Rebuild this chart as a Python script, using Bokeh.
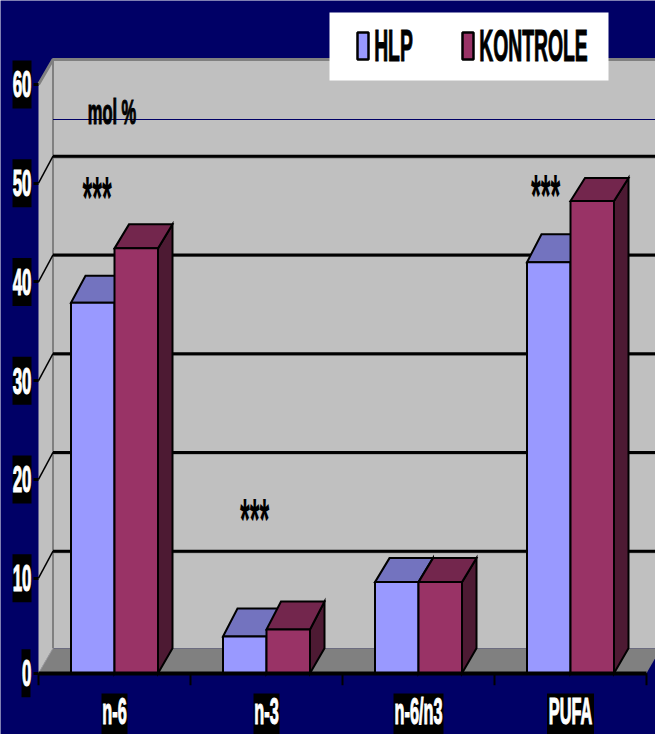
from bokeh.document import Document
from bokeh.embed import file_html
from bokeh.resources import INLINE
from bokeh.plotting import figure
from bokeh.models import CustomJS, FixedTicker, LinearAxis
from bokeh.core.properties import value

# fatty acid fractions, mol %
categories = ["n-6", "n-3", "n-6/n3", "PUFA"]
hlp = [37.9, 4.1, 9.6, 42.0]
kontrole = [43.4, 4.8, 9.6, 48.2]
y_ticks = [10, 20, 30, 40, 50, 60]
series_names = ["HLP", "KONTROLE"]
significance = ["***", "***", "", "***"]

# how far each bar's lid rises towards the back, px
hlp_rise = [27, 28, 24, 28]
kontrole_rise = [24, 28, 24, 23]

NAVY = "#000066"
WALL = "#C0C0C0"
FLOOR = "#808080"
FONT = value("Liberation Sans")

W, H = 655, 734
X0, CAT_W = 38.0, 152.0       # left wall front edge and category width, px
Y0, UNIT = 676.4, 9.874       # scale zero and px per percentage point
BASE = 0.37                   # the box floor sits a little above scale zero
DX, DY = 14.5 / CAT_W, 25.0 / UNIT   # depth of the 3D box in data units
GRID_DY = 27.0 / UNIT         # rise of the gridlines across the left wall
HALF = 43.5 / CAT_W           # single bar width


def X(px):
    return (px - X0) / CAT_W


def Y(py):
    return (Y0 - py) / UNIT


p = figure(width=W, height=H, x_range=(X(0), X(W)), y_range=(Y(H), Y(0)),
           x_axis_type=None, y_axis_type=None, toolbar_location=None,
           output_backend="svg", min_border=0, outline_line_color=None,
           background_fill_color=NAVY, border_fill_color=NAVY)

n = len(categories)
top = y_ticks[-1]

# back wall, left wall and floor of the 3D box
p.patch([DX, n + DX, n + DX, DX], [BASE + DY, BASE + DY, top + DY, top + DY], fill_color=WALL, line_color=None)
p.patch([0, DX, DX, 0], [BASE, BASE + DY, top + DY, top], fill_color=WALL, line_color=None)
p.patch([0, DX, n + DX, n], [BASE, BASE + DY, BASE + DY, BASE], fill_color=FLOOR, line_color=None)
p.line([0, DX, n + DX], [top, top + DY, top + DY], line_color="#808080", line_width=3)
p.line([DX, DX], [BASE + DY, top + DY], line_color="#808080", line_width=2)
p.line([0, DX], [BASE, BASE + DY], line_color="#A0A0A0", line_width=1)

# gridlines along both walls
for v in y_ticks[:-1]:
    p.line([DX, n + DX], [v + GRID_DY - 0.12, v + GRID_DY - 0.12], line_color="#808080", line_width=2)
    p.line([DX, n + DX], [v + GRID_DY, v + GRID_DY], line_color="black", line_width=3)
    p.line([0, DX], [v, v + GRID_DY], line_color="black", line_width=1.5)

# thin rule under the unit label
p.line([DX, n + DX], [Y(119), Y(119)], line_color=NAVY, line_width=1)


def bar(x0, x1, v, rise, front, lid, side):
    r = rise / UNIT
    p.patch([x1, x1 + DX, x1 + DX, x1], [BASE, BASE + DY, v + r, v], fill_color=side,
            line_color="black", line_width=2, line_join="miter")
    p.patch([x0, x0 + DX, x1 + DX, x1], [v, v + r, v + r, v], fill_color=lid,
            line_color="black", line_width=2, line_join="miter")
    p.quad(left=x0, right=x1, bottom=BASE, top=v, fill_color=front,
           line_color="black", line_width=2)


for i in range(n):
    c = i + 0.5
    bar(c - HALF, c, hlp[i], hlp_rise[i], "#9999FF", "#7373BF", "#4D4D80")
    bar(c, c + HALF, kontrole[i], kontrole_rise[i], "#993366", "#73264D", "#4D1A33")

# black plates behind the tick labels
for v in [BASE] + y_ticks:
    left = 21 if v == BASE else 12
    right = 30 if v == BASE else 31
    p.quad(left=X(left), right=X(right), bottom=v - 24 / UNIT, top=v + 24 / UNIT,
           fill_color="black", line_color=None)
plate_widths = [26, 26, 50, 47]
for i, w in enumerate(plate_widths):
    c = i + 0.5
    p.quad(left=c - w / 2 / CAT_W, right=c + w / 2 / CAT_W, bottom=Y(H), top=Y(693),
           fill_color="black", line_color=None)

# category separators below the floor edge
p.segment(x0=list(range(n + 1)), x1=list(range(n + 1)), y0=[BASE] * (n + 1),
          y1=[BASE - 12 / UNIT] * (n + 1), line_color="black", line_width=2)

# value axis
y_axis = LinearAxis(ticker=FixedTicker(ticks=[BASE] + y_ticks), fixed_location=0,
                    major_label_overrides={BASE: "0"},
                    axis_line_color=None, major_tick_line_color="black",
                    major_tick_line_width=3, major_tick_out=5, major_tick_in=0,
                    minor_tick_line_color=None, major_label_standoff=2,
                    major_label_text_color="white", major_label_text_font="Liberation Sans",
                    major_label_text_font_style="bold", major_label_text_font_size="36px")
p.add_layout(y_axis, "left")

# category axis
centers = [i + 0.5 for i in range(n)]
x_names = LinearAxis(ticker=FixedTicker(ticks=centers), fixed_location=BASE, bounds=(0, n),
                     axis_line_color="black", axis_line_width=4, major_tick_line_color=None,
                     minor_tick_line_color=None, major_label_standoff=12,
                     major_label_overrides={c: name for c, name in zip(centers, categories)},
                     major_label_text_color="white", major_label_text_font="Liberation Sans",
                     major_label_text_font_style="bold", major_label_text_font_size="37px")
p.add_layout(x_names, "below")

# significance stars and unit label
star_y = [Y(197), Y(519), None, Y(195)]
star_x = [X(96.5), X(254), None, X(545)]
for sx, sy, s in zip(star_x, star_y, significance):
    if s:
        p.text([sx], [sy], text=[s], text_color="black", text_font=FONT,
               text_font_style="bold", text_font_size="60px",
               text_align="center", text_baseline="middle")
p.text([X(111.5)], [Y(111)], text=["mol %"], text_color="black", text_font=FONT,
       text_font_style="bold", text_font_size="35px",
       text_align="center", text_baseline="middle")

# legend panel
p.quad(left=X(329), right=X(608), bottom=Y(80), top=Y(12), fill_color="white", line_color=None)
for (a, b), col in zip([(357, 368), (462, 473)], ["#9999FF", "#993366"]):
    p.quad(left=X(a), right=X(b), bottom=Y(59), top=Y(32), fill_color=col,
           line_color="black", line_width=2.5)
for cx, name in zip([393, 533], series_names):
    p.text([X(cx)], [Y(45)], text=[name], text_color="black", text_font=FONT,
           text_font_style="bold", text_font_size="45px",
           text_align="center", text_baseline="middle")

# all lettering on the slide is horizontally condensed and heavy
condense = CustomJS(code="""
function scaleOf(t) {
  if (t === 'HLP' || t === 'KONTROLE') return 0.43;
  if (t === '***') return 0.42;
  if (/^(n-|PUFA)/.test(t)) return 0.44;
  return 0.47;
}
function squeeze(root) {
  root.querySelectorAll('*').forEach(el => {
    if (el.shadowRoot) squeeze(el.shadowRoot);
    if (el.tagName.toLowerCase() !== 'text' || el.getAttribute('data-narrow')) return;
    const box = el.getBBox();
    const t = el.textContent;
    const ox = /^[0-9]+$/.test(t) ? box.x + box.width : box.x + box.width / 2;
    const old = el.getAttribute('transform') || '';
    el.setAttribute('transform',
      `${old} translate(${ox} 0) scale(${scaleOf(t)} 1) translate(${-ox} 0)`);
    if (t !== '***') {
      el.setAttribute('stroke', el.getAttribute('fill') || 'black');
      el.setAttribute('stroke-width', '1.2');
    }
    el.setAttribute('data-narrow', '1');
  });
}
squeeze(document);
[50, 200, 600, 1500].forEach(t => setTimeout(() => squeeze(document), t));
""")

doc = Document()
doc.add_root(p)
doc.js_on_event("document_ready", condense)

open("out.html", "w").write(file_html(p, INLINE))
